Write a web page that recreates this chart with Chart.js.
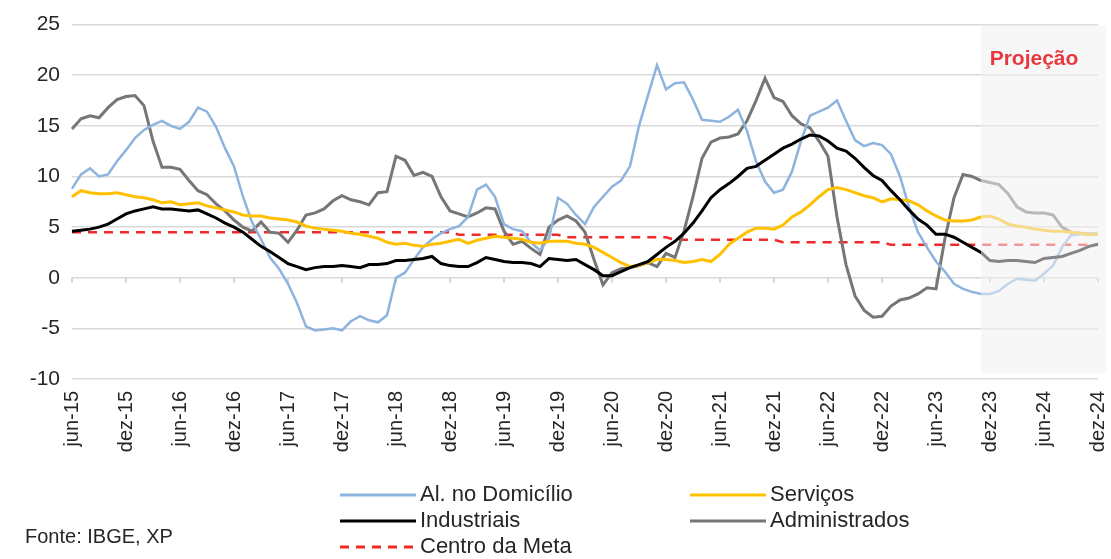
<!DOCTYPE html>
<html lang="pt-BR">
<head>
<meta charset="utf-8">
<title>IPCA - grupos</title>
<script src="https://cdn.jsdelivr.net/npm/chart.js@4.4.1/dist/chart.umd.min.js"></script>
<style>
  html, body { margin: 0; padding: 0; background: #fff; }
  #grafico { display: block; }
</style>
</head>
<body>
<canvas id="grafico" width="1111" height="559"></canvas>
<script>
// meses de jun-15 a dez-24
var meses = ['jan', 'fev', 'mar', 'abr', 'mai', 'jun', 'jul', 'ago', 'set', 'out', 'nov', 'dez'];
var rotulos = [];
for (var ano = 2015; ano <= 2024; ano++) {
  for (var m = 0; m < 12; m++) {
    if (ano == 2015 && m < 5) continue;
    rotulos.push(meses[m] + '-' + String(ano).slice(2));
  }
}

// a partir deste mes a serie e projecao (nov-23)
var inicioProjecao = 101;

var yTicks = [-10, -5, 0, 5, 10, 15, 20, 25];

var alimentos = [8.8, 10.2, 10.8, 10.0, 10.2, 11.5, 12.6, 13.8, 14.6, 15.1,
  15.5, 15.0, 14.7, 15.4, 16.8, 16.4, 14.9, 12.8, 11.0, 8.0,
  5.5, 3.8, 2.0, 0.9, -0.6, -2.5, -4.8, -5.2, -5.1, -5.0,
  -5.2, -4.3, -3.8, -4.2, -4.4, -3.7, 0.0, 0.5, 1.8, 3.0,
  3.8, 4.4, 4.8, 5.1, 6.0, 8.7, 9.2, 8.0, 5.3, 4.8,
  4.6, 3.5, 2.7, 3.9, 7.9, 7.3, 6.2, 5.3, 7.0, 8.0,
  9.0, 9.6, 11.0, 15.0, 18.0, 21.0, 18.6, 19.2, 19.3, 17.6,
  15.6, 15.5, 15.4, 15.9, 16.6, 14.5, 11.5, 9.5, 8.4, 8.7,
  10.5, 13.5, 16.0, 16.4, 16.8, 17.5, 15.5, 13.6, 13.0, 13.3,
  13.1, 12.2, 10.0, 7.0, 4.5, 3.0, 1.6, 0.6, -0.6, -1.1,
  -1.4, -1.6, -1.6, -1.3, -0.6, -0.1, -0.2, -0.3, 0.4, 1.2,
  3.0, 4.2, 4.3, 4.4, 4.3];

var servicos = [8.0, 8.6, 8.4, 8.3, 8.3, 8.4, 8.2, 8.0, 7.9, 7.7,
  7.4, 7.5, 7.2, 7.3, 7.4, 7.1, 6.9, 6.7, 6.5, 6.2,
  6.1, 6.1, 5.9, 5.8, 5.7, 5.5, 5.1, 4.9, 4.8, 4.7,
  4.6, 4.4, 4.3, 4.1, 3.9, 3.5, 3.3, 3.4, 3.2, 3.1,
  3.3, 3.4, 3.6, 3.8, 3.4, 3.7, 3.9, 4.1, 4.0, 3.9,
  3.8, 3.5, 3.4, 3.6, 3.6, 3.6, 3.4, 3.3, 3.0, 2.5,
  2.0, 1.5, 1.1, 1.2, 1.5, 1.8, 1.8, 1.7, 1.5, 1.6,
  1.8, 1.6, 2.3, 3.3, 3.9, 4.5, 4.9, 4.9, 4.8, 5.2,
  6.0, 6.5, 7.2, 8.0, 8.7, 8.9, 8.7, 8.4, 8.1, 7.9,
  7.5, 7.8, 7.7, 7.6, 7.2, 6.6, 6.1, 5.7, 5.6, 5.6,
  5.7, 6.0, 6.1, 5.8, 5.3, 5.1, 5.0, 4.8, 4.7, 4.6,
  4.6, 4.5, 4.4, 4.3, 4.3];

var industriais = [4.6, 4.7, 4.8, 5.0, 5.3, 5.8, 6.3, 6.6, 6.8, 7.0,
  6.8, 6.8, 6.7, 6.6, 6.7, 6.3, 5.9, 5.4, 5.0, 4.5,
  3.8, 3.1, 2.6, 2.0, 1.4, 1.1, 0.8, 1.0, 1.1, 1.1,
  1.2, 1.1, 1.0, 1.3, 1.3, 1.4, 1.7, 1.7, 1.8, 1.9,
  2.1, 1.4, 1.2, 1.1, 1.1, 1.5, 2.0, 1.8, 1.6, 1.5,
  1.5, 1.4, 1.1, 1.9, 1.8, 1.7, 1.8, 1.3, 0.8, 0.2,
  0.2, 0.6, 1.0, 1.3, 1.6, 2.3, 3.0, 3.6, 4.4, 5.4,
  6.6, 7.9, 8.7, 9.3, 10.0, 10.8, 11.0, 11.6, 12.2, 12.8,
  13.2, 13.7, 14.1, 14.0, 13.5, 12.8, 12.5, 11.8, 10.9, 10.1,
  9.6, 8.6, 7.7, 6.7, 5.8, 5.2, 4.3, 4.3, 4.0, 3.5,
  3.0, 2.5, 1.7, 1.6, 1.7, 1.7, 1.6, 1.5, 1.9, 2.0,
  2.1, 2.4, 2.7, 3.1, 3.3];

var administrados = [14.7, 15.7, 16.0, 15.8, 16.8, 17.6, 17.9, 18.0, 17.0, 13.5,
  10.9, 10.9, 10.7, 9.6, 8.6, 8.2, 7.3, 6.6, 5.7, 5.0,
  4.6, 5.5, 4.5, 4.4, 3.5, 4.7, 6.2, 6.4, 6.8, 7.6,
  8.1, 7.7, 7.5, 7.2, 8.4, 8.5, 12.0, 11.6, 10.1, 10.4,
  10.0, 8.0, 6.6, 6.3, 6.0, 6.4, 6.9, 6.8, 4.6, 3.3,
  3.6, 2.9, 2.3, 5.0, 5.7, 6.1, 5.6, 4.5, 1.8, -0.7,
  0.5, 0.9, 1.0, 1.2, 1.5, 1.1, 2.4, 2.0, 4.6, 8.0,
  11.8, 13.4, 13.8, 13.9, 14.2, 15.5, 17.5, 19.7, 17.8, 17.4,
  16.0, 15.2, 14.8, 13.5, 12.0, 6.0, 1.3, -1.8, -3.2, -3.9,
  -3.8, -2.8, -2.2, -2.0, -1.6, -1.0, -1.1, 3.9, 7.9, 10.2,
  10.0, 9.6, 9.4, 9.2, 8.3, 7.0, 6.5, 6.4, 6.4, 6.2,
  5.0, 4.5, 4.4, 4.3, 4.3];

var centroMeta = [4.5, 4.5, 4.5, 4.5, 4.5, 4.5, 4.5, 4.5, 4.5, 4.5,
  4.5, 4.5, 4.5, 4.5, 4.5, 4.5, 4.5, 4.5, 4.5, 4.5,
  4.5, 4.5, 4.5, 4.5, 4.5, 4.5, 4.5, 4.5, 4.5, 4.5,
  4.5, 4.5, 4.5, 4.5, 4.5, 4.5, 4.5, 4.5, 4.5, 4.5,
  4.5, 4.5, 4.5, 4.25, 4.25, 4.25, 4.25, 4.25, 4.25, 4.25,
  4.25, 4.25, 4.25, 4.25, 4.25, 4.0, 4.0, 4.0, 4.0, 4.0,
  4.0, 4.0, 4.0, 4.0, 4.0, 4.0, 4.0, 3.75, 3.75, 3.75,
  3.75, 3.75, 3.75, 3.75, 3.75, 3.75, 3.75, 3.75, 3.75, 3.5,
  3.5, 3.5, 3.5, 3.5, 3.5, 3.5, 3.5, 3.5, 3.5, 3.5,
  3.5, 3.25, 3.25, 3.25, 3.25, 3.25, 3.25, 3.25, 3.25, 3.25,
  3.25, 3.25, 3.25, 3.25, 3.25, 3.25, 3.25, 3.25, 3.25, 3.25,
  3.25, 3.25, 3.25, 3.25, 3.25];

var fonte = '"Liberation Sans", Arial, sans-serif';
var corTexto = '#262626';

// tracinhos no eixo do zero, a cada 6 meses
var marcasZero = {
  id: 'marcasZero',
  beforeDatasetsDraw: function(chart) {
    var ctx = chart.ctx, xs = chart.scales.x, ys = chart.scales.y;
    var y0 = ys.getPixelForValue(0);
    ctx.save();
    ctx.strokeStyle = '#c8c8c8';
    ctx.lineWidth = 1.5;
    for (var i = 0; i < rotulos.length; i += 6) {
      var x = xs.getPixelForValue(i);
      ctx.beginPath();
      ctx.moveTo(x, y0);
      ctx.lineTo(x, y0 + 5);
      ctx.stroke();
    }
    ctx.restore();
  }
};

// faixa clara por cima do periodo projetado
var faixaProjecao = {
  id: 'faixaProjecao',
  afterDatasetsDraw: function(chart) {
    var ctx = chart.ctx, xs = chart.scales.x;
    var x1 = xs.getPixelForValue(inicioProjecao);
    ctx.save();
    ctx.fillStyle = 'rgba(240,240,240,0.55)';
    ctx.fillRect(x1, 26, 1106 - x1, 347);
    ctx.fillStyle = '#e8383d';
    ctx.font = 'bold 21px ' + fonte;
    ctx.textAlign = 'center';
    ctx.textBaseline = 'middle';
    ctx.fillText('Projeção', 1034, 59);
    ctx.restore();
  }
};

// legenda em duas colunas + fonte
var legenda = {
  id: 'legenda',
  afterDraw: function(chart) {
    var ctx = chart.ctx;
    ctx.save();
    ctx.font = '22px ' + fonte;
    ctx.textBaseline = 'middle';
    chart.data.datasets.forEach(function(ds, k) {
      var x = 340 + (k % 2) * 350;
      var y = 495 + Math.floor(k / 2) * 26;
      ctx.strokeStyle = ds.borderColor;
      ctx.lineWidth = 3;
      ctx.setLineDash(ds.borderDash || []);
      ctx.beginPath();
      ctx.moveTo(x, y);
      ctx.lineTo(x + 76, y);
      ctx.stroke();
      ctx.setLineDash([]);
      ctx.fillStyle = corTexto;
      ctx.fillText(ds.label, x + 80, y);
    });
    ctx.font = '20px ' + fonte;
    ctx.fillText('Fonte: IBGE, XP', 25, 537);
    ctx.restore();
  }
};

var ctx = document.getElementById('grafico').getContext('2d');
var grafico = new Chart(ctx, {
  type: 'line',
  data: {
    labels: rotulos,
    datasets: [
      { label: 'Al. no Domicílio', data: alimentos, borderColor: '#8db3df', borderWidth: 2.5, order: 3 },
      { label: 'Serviços', data: servicos, borderColor: '#ffc000', borderWidth: 3, order: 2 },
      { label: 'Industriais', data: industriais, borderColor: '#000000', borderWidth: 3, order: 1 },
      { label: 'Administrados', data: administrados, borderColor: '#767676', borderWidth: 3, order: 4 },
      { label: 'Centro da Meta', data: centroMeta, borderColor: '#ee2a2a', borderWidth: 2.5, borderDash: [9, 7], order: 5 }
    ]
  },
  options: {
    responsive: false,
    animation: false,
    layout: { padding: { left: 0, right: 13, top: 22, bottom: 90 } },
    elements: {
      point: { radius: 0 },
      line: { tension: 0, borderCapStyle: 'butt' }
    },
    plugins: {
      legend: { display: false },
      tooltip: { enabled: false }
    },
    scales: {
      x: {
        type: 'category',
        offset: false,
        grid: { display: false, drawTicks: false },
        border: { display: false },
        ticks: {
          autoSkip: false,
          maxRotation: 90,
          minRotation: 90,
          padding: 12,
          color: corTexto,
          font: { family: fonte, size: 20 },
          callback: function(v, i) { return i % 6 === 0 ? rotulos[i] : ''; }
        },
        afterFit: function(s) {
          s.height = 90;
          s.paddingLeft = 0;
          s.paddingRight = 0;
        }
      },
      y: {
        min: -10,
        max: 25,
        afterBuildTicks: function(s) { s.ticks = yTicks.map(function(v) { return { value: v }; }); },
        grid: { color: '#d9d9d9', lineWidth: 1.5, drawTicks: false },
        border: { display: false },
        ticks: {
          padding: 12,
          color: corTexto,
          font: { family: fonte, size: 21 }
        },
        afterFit: function(s) { s.width = 72; }
      }
    }
  },
  plugins: [marcasZero, faixaProjecao, legenda]
});
</script>
</body>
</html>
